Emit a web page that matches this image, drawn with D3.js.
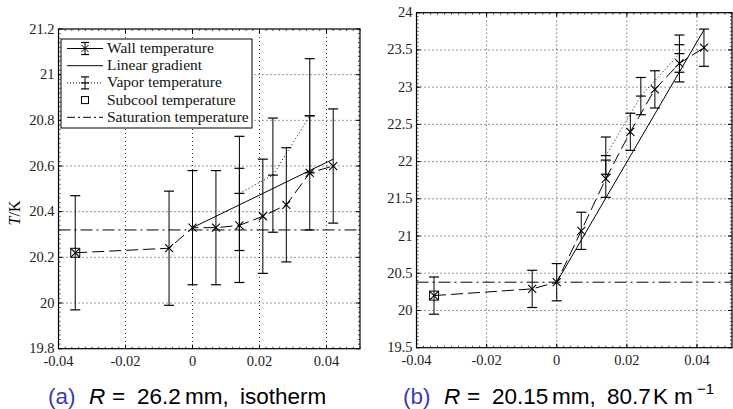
<!DOCTYPE html>
<html>
<head>
<meta charset="utf-8">
<script src="https://cdn.jsdelivr.net/npm/d3@7.9.0/dist/d3.min.js"></script>
<style>
  body { margin: 0; background: #fff; }
</style>
</head>
<body>
<svg id="chart" width="733" height="409"></svg>
<script>
// wall thermometer positions (m)
const wallX = [-0.035, -0.007, 0, 0.007, 0.014, 0.021, 0.028, 0.035, 0.042];
const vaporX = [0.014, 0.024, 0.035];
const errSize = 0.25;

// panel (a) R = 26.2 mm
const wallA = [20.22, 20.24, 20.33, 20.33, 20.34, 20.38, 20.43, 20.57, 20.60];
const vaporA = [20.48, 20.56, 20.82];
const gradA = [[0, 20.33], [0.042, 20.63]];
const satA = 20.32;
const subcoolA = [-0.035, 20.22];

// panel (b) R = 20.15 mm
const wallB = [20.20, 20.29, 20.38, 21.07, 21.77, 22.40, 22.97, 23.32, 23.53];
const vaporB = [22.08, 22.88, 23.45];
const gradB = [[0, 20.38], [0.042, 23.77]];
const satB = 20.38;
const subcoolB = [-0.035, 20.20];

const xTicks = [-0.04, -0.02, 0, 0.02, 0.04];
const yTicksA = [19.8, 20, 20.2, 20.4, 20.6, 20.8, 21, 21.2];
const yTicksB = [19.5, 20, 20.5, 21, 21.5, 22, 22.5, 23, 23.5, 24];

const legendItems = ["Wall temperature", "Linear gradient", "Vapor temperature",
  "Subcool temperature", "Saturation temperature"];

const SERIF = "Liberation Serif";
const SANS = "Liberation Sans";

const svg = d3.select("#chart");

function fmt(v) {
  return String(+v.toFixed(4));
}

function drawPanel(p) {
  const g = svg.append("g");
  let x = d3.scaleLinear().domain([-0.04, 0.05]).range([p.left, p.right]);
  let y = d3.scaleLinear().domain(p.yDomain).range([p.bottom, p.top]);

  // grid
  xTicks.forEach((t) => {
    if (t === -0.04) return;
    g.append("line").attr("x1", x(t)).attr("x2", x(t)).attr("y1", p.top).attr("y2", p.bottom)
      .attr("stroke", "#000").attr("stroke-width", 0.8).attr("stroke-dasharray", "1,3");
  });
  p.yTicks.forEach((t, i) => {
    if (i === 0 || i === p.yTicks.length - 1) return;
    g.append("line").attr("x1", p.left).attr("x2", p.right).attr("y1", y(t)).attr("y2", y(t))
      .attr("stroke", "#000").attr("stroke-width", 0.8).attr("stroke-dasharray", "1,3");
  });

  // minor + major ticks on all sides, pointing in
  let xMinor = d3.range(-0.04, 0.0501, 0.002);
  let yMinor = d3.range(p.yDomain[0], p.yDomain[1] + 1e-6, p.yMinor);
  xMinor.forEach((t) => {
    g.append("line").attr("x1", x(t)).attr("x2", x(t)).attr("y1", p.bottom).attr("y2", p.bottom - 2)
      .attr("stroke", "#000").attr("stroke-width", 0.7);
    g.append("line").attr("x1", x(t)).attr("x2", x(t)).attr("y1", p.top).attr("y2", p.top + 2)
      .attr("stroke", "#000").attr("stroke-width", 0.7);
  });
  yMinor.forEach((t) => {
    g.append("line").attr("x1", p.left).attr("x2", p.left + 2).attr("y1", y(t)).attr("y2", y(t))
      .attr("stroke", "#000").attr("stroke-width", 0.7);
    g.append("line").attr("x1", p.right).attr("x2", p.right - 2).attr("y1", y(t)).attr("y2", y(t))
      .attr("stroke", "#000").attr("stroke-width", 0.7);
  });
  xTicks.forEach((t) => {
    g.append("line").attr("x1", x(t)).attr("x2", x(t)).attr("y1", p.bottom).attr("y2", p.bottom - 4)
      .attr("stroke", "#000");
    g.append("line").attr("x1", x(t)).attr("x2", x(t)).attr("y1", p.top).attr("y2", p.top + 4)
      .attr("stroke", "#000");
    g.append("text").attr("x", x(t)).attr("y", p.bottom + 17).attr("text-anchor", "middle")
      .attr("font-family", SERIF).attr("font-size", 14.5).attr("fill", "#222").text(fmt(t));
  });
  p.yTicks.forEach((t) => {
    g.append("line").attr("x1", p.left).attr("x2", p.left + 4).attr("y1", y(t)).attr("y2", y(t))
      .attr("stroke", "#000");
    g.append("line").attr("x1", p.right).attr("x2", p.right - 4).attr("y1", y(t)).attr("y2", y(t))
      .attr("stroke", "#000");
    g.append("text").attr("x", p.left - 4).attr("y", y(t) + 4.5).attr("text-anchor", "end")
      .attr("font-family", SERIF).attr("font-size", 14.5).attr("fill", "#222").text(fmt(t));
  });

  // saturation
  g.append("line").attr("x1", p.left).attr("x2", p.right).attr("y1", y(p.sat)).attr("y2", y(p.sat))
    .attr("stroke", "#000").attr("stroke-width", 1).attr("stroke-dasharray", "12,4,2,4");

  // linear gradient
  let line = d3.line().x((d) => x(d[0])).y((d) => y(d[1]));
  g.append("path").attr("d", line(p.grad)).attr("fill", "none").attr("stroke", "#000");

  // wall temperature
  let wallPts = wallX.map((v, i) => [v, p.wall[i]]);
  g.append("path").attr("d", line(wallPts)).attr("fill", "none").attr("stroke", "#000")
    .attr("stroke-dasharray", "12,5");

  // vapor temperature
  let vapPts = vaporX.map((v, i) => [v, p.vapor[i]]);
  g.append("path").attr("d", line(vapPts)).attr("fill", "none").attr("stroke", "#000")
    .attr("stroke-dasharray", "1,2.5");

  function errorBar(px, py, mid) {
    let xx = x(px);
    g.append("line").attr("x1", xx).attr("x2", xx).attr("y1", y(py - errSize)).attr("y2", y(py + errSize))
      .attr("stroke", "#000");
    [py - errSize, py + errSize].concat(mid ? [py] : []).forEach((v) => {
      g.append("line").attr("x1", xx - 5).attr("x2", xx + 5).attr("y1", y(v)).attr("y2", y(v))
        .attr("stroke", "#000").attr("stroke-width", 1.2);
    });
  }
  function cross(px, py) {
    let xx = x(px), yy = y(py), s = 4;
    g.append("path").attr("d", `M${xx - s},${yy - s}L${xx + s},${yy + s}M${xx - s},${yy + s}L${xx + s},${yy - s}`)
      .attr("stroke", "#000").attr("stroke-width", 1.1);
  }
  wallPts.forEach((d) => errorBar(d[0], d[1], false));
  vapPts.forEach((d) => errorBar(d[0], d[1], true));
  wallPts.forEach((d) => cross(d[0], d[1]));

  // subcool square
  g.append("rect").attr("x", x(p.subcool[0]) - 4.5).attr("y", y(p.subcool[1]) - 4.5)
    .attr("width", 9).attr("height", 9).attr("fill", "none").attr("stroke", "#000");

  // frame
  g.append("rect").attr("x", p.left).attr("y", p.top).attr("width", p.right - p.left)
    .attr("height", p.bottom - p.top).attr("fill", "none").attr("stroke", "#000").attr("stroke-width", 1.2);

  return { x, y, g };
}

drawPanel({ left: 58.5, right: 360, top: 29, bottom: 348.7, yDomain: [19.8, 21.2],
  yTicks: yTicksA, yMinor: 0.02, wall: wallA, vapor: vaporA, grad: gradA, sat: satA, subcool: subcoolA });
drawPanel({ left: 416.5, right: 732, top: 12.7, bottom: 347.7, yDomain: [19.5, 24],
  yTicks: yTicksB, yMinor: 0.05, wall: wallB, vapor: vaporB, grad: gradB, sat: satB, subcool: subcoolB });

// legend (panel a)
const lg = svg.append("g");
lg.append("rect").attr("x", 61).attr("y", 39).attr("width", 191).attr("height", 89)
  .attr("fill", "#fff").attr("stroke", "#000").attr("stroke-width", 1);
legendItems.forEach((name, i) => {
  let cy = 48.5 + i * 17.2;
  let x0 = 67, x1 = 103, xm = 85;
  if (i === 0) {
    lg.append("line").attr("x1", x0).attr("x2", x1).attr("y1", cy).attr("y2", cy).attr("stroke", "#000");
    lg.append("line").attr("x1", xm).attr("x2", xm).attr("y1", cy - 6).attr("y2", cy + 6).attr("stroke", "#000");
    [cy - 6, cy + 6].forEach((v) => lg.append("line").attr("x1", xm - 4).attr("x2", xm + 4)
      .attr("y1", v).attr("y2", v).attr("stroke", "#000").attr("stroke-width", 1.2));
    lg.append("path").attr("d", `M${xm - 3.5},${cy - 3.5}L${xm + 3.5},${cy + 3.5}M${xm - 3.5},${cy + 3.5}L${xm + 3.5},${cy - 3.5}`)
      .attr("stroke", "#000");
  } else if (i === 1) {
    lg.append("line").attr("x1", x0).attr("x2", x1).attr("y1", cy).attr("y2", cy).attr("stroke", "#000");
  } else if (i === 2) {
    lg.append("line").attr("x1", x0).attr("x2", x1).attr("y1", cy).attr("y2", cy).attr("stroke", "#000")
      .attr("stroke-dasharray", "1,2");
    lg.append("line").attr("x1", xm).attr("x2", xm).attr("y1", cy - 6).attr("y2", cy + 6).attr("stroke", "#000");
    [cy - 6, cy, cy + 6].forEach((v) => lg.append("line").attr("x1", xm - 4).attr("x2", xm + 4)
      .attr("y1", v).attr("y2", v).attr("stroke", "#000").attr("stroke-width", 1.2));
  } else if (i === 3) {
    lg.append("rect").attr("x", xm - 3.5).attr("y", cy - 3.5).attr("width", 7).attr("height", 7)
      .attr("fill", "none").attr("stroke", "#000");
  } else {
    lg.append("line").attr("x1", x0).attr("x2", x1).attr("y1", cy).attr("y2", cy).attr("stroke", "#000")
      .attr("stroke-dasharray", "8,3,2,3");
  }
  lg.append("text").attr("x", 107).attr("y", cy + 4.5).attr("font-family", SERIF)
    .attr("font-size", 15.5).attr("fill", "#111").text(name);
});

// y label
const yl = svg.append("text").attr("transform", "translate(20,213) rotate(-90)")
  .attr("text-anchor", "middle").attr("font-family", SERIF).attr("font-size", 16);
yl.append("tspan").attr("font-style", "italic").text("T");
yl.append("tspan").text("/K");

// captions: pieces placed at measured x positions
function caption(parts) {
  const t = svg.append("text").attr("y", 404).attr("font-family", SANS).attr("font-size", 22.5);
  parts.forEach((pt) => {
    let s = t.append("tspan").attr("x", pt.x).text(pt.t);
    if (pt.c) s.attr("fill", pt.c);
    if (pt.i) s.attr("font-style", "italic");
    if (pt.sup) s.attr("font-size", 15).attr("dy", -10);
  });
}
caption([
  { x: 48, t: "(a)", c: "#3b3bb3" }, { x: 89, t: "R", i: true }, { x: 112, t: "=" },
  { x: 137, t: "26.2" }, { x: 185, t: "mm," }, { x: 240, t: "isotherm" }]);
caption([
  { x: 403, t: "(b)", c: "#3b3bb3" }, { x: 444, t: "R", i: true }, { x: 467, t: "=" },
  { x: 492, t: "20.15" }, { x: 552, t: "mm," }, { x: 607, t: "80.7" }, { x: 653, t: "K" },
  { x: 674, t: "m" }, { x: 697, t: "\u22121", sup: true }]);
</script>
</body>
</html>
